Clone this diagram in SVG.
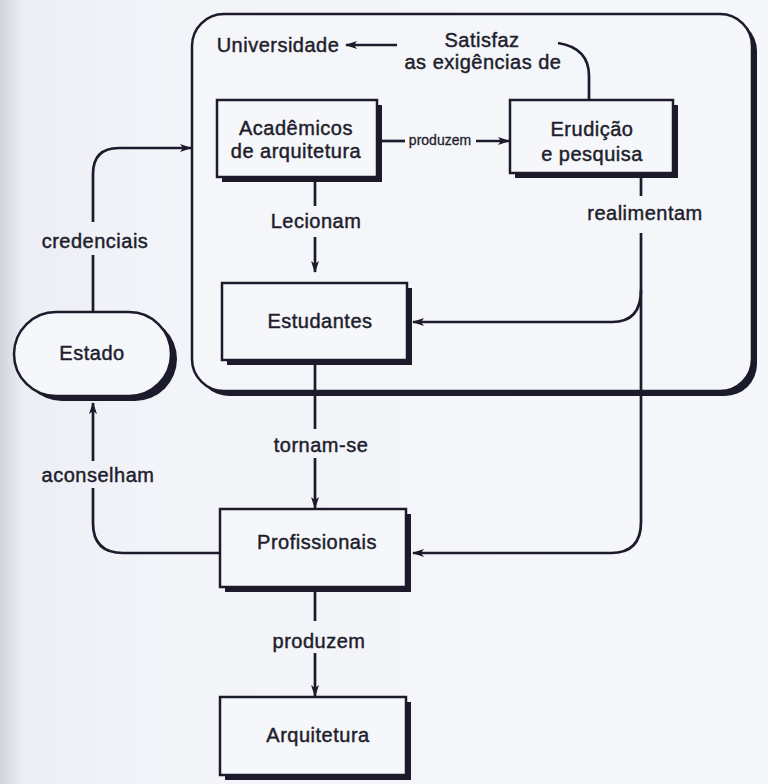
<svg xmlns="http://www.w3.org/2000/svg" width="768" height="784" viewBox="0 0 768 784">
<defs>
<linearGradient id="bg" x1="0" y1="0" x2="1" y2="0">
<stop offset="0" stop-color="#d2d3dc"/>
<stop offset="0.03" stop-color="#eceef5"/>
<stop offset="0.2" stop-color="#f3f4f9"/>
<stop offset="1" stop-color="#f6f7fb"/>
</linearGradient>
<marker id="ah" viewBox="0 0 12 8" refX="11" refY="4" markerWidth="12" markerHeight="8" markerUnits="userSpaceOnUse" orient="auto">
<path d="M0,0 L12,4 L0,8 L3,4 z" fill="#1c1b2b"/>
</marker>
<style>
.t{font-family:"Liberation Sans",Arial,sans-serif;font-size:20px;fill:#1e1e2c;text-anchor:middle;letter-spacing:0.5px;stroke:#1e1e2c;stroke-width:0.45}
.s{font-size:14px;letter-spacing:0;stroke-width:0.3}
.box{fill:#f6f7fb;stroke:#1c1b2b;stroke-width:2.5}
.sh{fill:#1c1b2b}
.c{fill:none;stroke:#1c1b2b;stroke-width:2.7}
</style>
</defs>
<rect x="0" y="0" width="768" height="784" fill="url(#bg)"/>

<g id="universidade">
<rect class="sh" x="197" y="19" width="560" height="377" rx="32"/>
<rect x="192" y="14" width="560" height="377" rx="32" fill="#f5f6fa" stroke="#1c1b2b" stroke-width="2.5"/>
<text class="t" x="278" y="52">Universidade</text>
</g>

<g id="academicos">
<rect class="sh" x="222" y="105" width="160" height="77"/>
<rect class="box" x="217" y="100" width="160" height="77"/>
<text class="t" x="296" y="135">Acadêmicos</text>
<text class="t" x="296" y="158">de arquitetura</text>
</g>

<g id="erudicao">
<rect class="sh" x="515" y="105" width="163" height="73"/>
<rect class="box" x="510" y="100" width="163" height="73"/>
<text class="t" x="592" y="136">Erudição</text>
<text class="t" x="592" y="161">e pesquisa</text>
</g>

<g id="estudantes">
<rect class="sh" x="227" y="288" width="185" height="77"/>
<rect class="box" x="222" y="283" width="185" height="77"/>
<text class="t" x="320" y="328">Estudantes</text>
</g>

<g id="estado">
<rect class="sh" x="20" y="317" width="157" height="84" rx="42"/>
<rect class="box" x="14" y="312" width="157" height="84" rx="42"/>
<text class="t" x="92" y="360">Estado</text>
</g>

<g id="profissionais">
<rect class="sh" x="225" y="514" width="186" height="78"/>
<rect class="box" x="220" y="509" width="186" height="78"/>
<text class="t" x="317" y="549">Profissionais</text>
</g>

<g id="arquitetura">
<rect class="sh" x="225" y="702" width="186" height="78"/>
<rect class="box" x="220" y="697" width="186" height="78"/>
<text class="t" x="318" y="742">Arquitetura</text>
</g>

<g id="connectors">
<path class="c" d="M397,45 L346,45" marker-end="url(#ah)"/>
<text class="t" x="482" y="47">Satisfaz</text>
<text class="t" x="483" y="69">as exigências de</text>
<path class="c" d="M558,43 Q589,48 589,76 L589,100"/>

<path class="c" d="M377,141 L405,141"/>
<text class="t s" x="440" y="145">produzem</text>
<path class="c" d="M476,141 L509,141" marker-end="url(#ah)"/>

<path class="c" d="M315,177 L315,206"/>
<text class="t" x="316" y="228">Lecionam</text>
<path class="c" d="M315,237 L315,272" marker-end="url(#ah)"/>

<path class="c" d="M641,173 L641,196"/>
<text class="t" x="645" y="220">realimentam</text>
<path class="c" d="M641,233 L641,522 Q641,553 611,553 L413,553" marker-end="url(#ah)"/>
<path class="c" d="M641,290 Q641,322 612,322 L413,322" marker-end="url(#ah)"/>

<path class="c" d="M315,360 L315,429"/>
<text class="t" x="321" y="452">tornam-se</text>
<path class="c" d="M315,458 L315,508" marker-end="url(#ah)"/>

<path class="c" d="M315,587 L315,621"/>
<text class="t" x="319" y="648">produzem</text>
<path class="c" d="M315,653 L315,696" marker-end="url(#ah)"/>

<path class="c" d="M93,312 L93,255"/>
<text class="t" x="95" y="248">credenciais</text>
<path class="c" d="M93,222 L93,174 Q93,148 119,148 L191,148" marker-end="url(#ah)"/>

<path class="c" d="M220,553 L123,553 Q93,553 93,523 L93,488"/>
<text class="t" x="98" y="482">aconselham</text>
<path class="c" d="M93,461 L93,403" marker-end="url(#ah)"/>
</g>
</svg>
